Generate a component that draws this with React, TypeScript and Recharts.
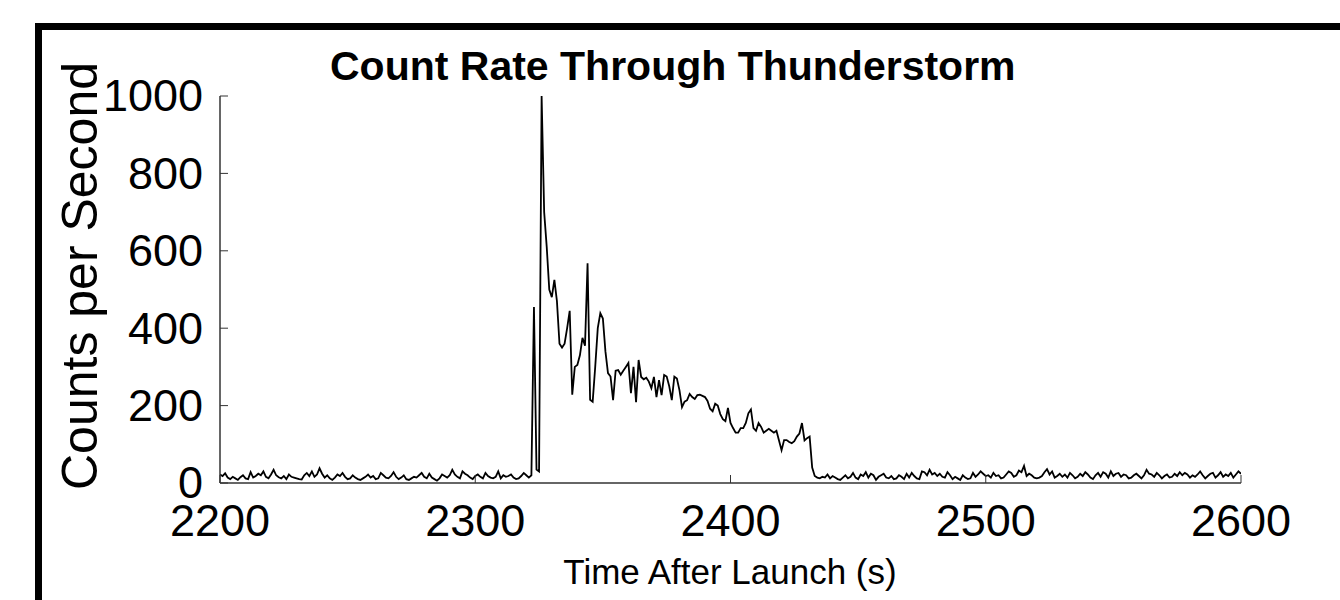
import React from "react";
import { LineChart, Line, XAxis, YAxis, Label } from "recharts";

// seconds after launch, three stretches sampled once per second
const PRE_START = 2200;
const STORM_START = 2322;
const POST_START = 2434;

const preStorm = [
  22, 18, 25, 14, 10, 16, 12, 8, 15, 20, 12, 10, 28, 14, 18, 24, 20, 30, 16, 12,
  22, 34, 20, 15, 12, 18, 10, 22, 16, 14, 12, 10, 9, 20, 26, 18, 30, 16, 22, 38,
  24, 14, 20, 12, 8, 14, 22, 18, 26, 16, 10, 12, 20, 14, 10, 8, 12, 16, 22, 14,
  18, 10, 12, 26, 20, 14, 12, 18, 28, 16, 10, 14, 20, 10, 8, 12, 16, 14, 20, 26,
  16, 12, 24, 14, 10, 6, 12, 22, 18, 14, 20, 34, 22, 16, 12, 30, 24, 20, 14, 10,
  18, 22, 16, 12, 26, 18, 14, 12, 16, 30, 12, 20, 16, 18, 22, 14, 10, 12, 18, 26,
  20, 14,
];

const storm = [
  20, 455, 35, 30, 1000, 700, 610, 500, 480, 525, 470, 360, 350, 360, 400, 445,
  228, 300, 305, 330, 375, 355, 568, 215, 210, 300, 400, 439, 425, 340, 284, 275,
  214, 290, 292, 280, 290, 300, 310, 232, 300, 209, 318, 274, 268, 272, 262, 245,
  274, 222, 266, 227, 279, 275, 250, 214, 275, 270, 240, 196, 210, 214, 230, 222,
  217, 227, 228, 225, 222, 212, 192, 185, 205, 200, 178, 165, 160, 194, 155, 142,
  130, 130, 142, 142, 155, 180, 190, 142, 135, 155, 145, 130, 135, 140, 135, 130,
  135, 110, 85, 111, 111, 106, 103, 108, 120, 128, 155, 110, 116, 120, 40, 18,
];

const postStorm = [
  14, 12, 16, 14, 22, 12, 18, 14, 10, 8, 14, 20, 12, 16, 26, 14, 10, 22, 18, 28,
  14, 24, 20, 8, 16, 20, 24, 14, 12, 18, 10, 12, 20, 16, 10, 24, 14, 26, 18, 12,
  10, 30, 28, 20, 34, 22, 26, 18, 24, 16, 14, 28, 20, 10, 16, 12, 8, 20, 14, 10,
  12, 26, 16, 22, 30, 24, 18, 20, 14, 26, 18, 20, 12, 14, 22, 30, 26, 16, 20, 32,
  28, 44, 18, 24, 20, 14, 12, 14, 18, 28, 36, 22, 30, 14, 18, 24, 16, 22, 14, 26,
  20, 12, 16, 24, 18, 28, 22, 14, 10, 20, 26, 16, 28, 24, 14, 30, 18, 24, 26, 16,
  22, 20, 12, 14, 20, 24, 18, 12, 20, 34, 24, 22, 16, 26, 20, 12, 18, 22, 14, 16,
  24, 18, 28, 20, 26, 22, 14, 20, 16, 22, 30, 20, 12, 18, 24, 26, 14, 20, 28, 16,
  22, 18, 26, 14, 22, 30, 24,
];

const xTicks = [2200, 2300, 2400, 2500, 2600];
const yTicks = [0, 200, 400, 600, 800, 1000];

const segments: [number, number[]][] = [
  [PRE_START, preStorm],
  [STORM_START, storm],
  [POST_START, postStorm],
];

const data = segments.flatMap(([start, vals]) =>
  vals.map((v, i) => ({ t: start + i, counts: v })),
);

const FONT = "Liberation Sans, Arial, sans-serif";

const XTick = (props: any) => (
  <text
    x={props.x}
    y={props.y}
    textAnchor='middle'
    fontSize={45}
    fontFamily={FONT}
    fill='#000'
  >
    {props.payload.value}
  </text>
);

const YTick = (props: any) => (
  <text
    x={props.x}
    y={props.y}
    dy='0.34em'
    textAnchor='end'
    fontSize={45}
    fontFamily={FONT}
    fill='#000'
  >
    {props.payload.value}
  </text>
);

export default function App() {
  return (
    <div
      style={{
        position: "absolute",
        left: 0,
        top: 0,
        width: 1340,
        height: 600,
        background: "#fff",
        overflow: "hidden",
      }}
    >
      {/* figure frame, only top and left edges show */}
      <div
        style={{
          position: "absolute",
          left: 35,
          top: 23,
          width: 1305,
          height: 7,
          background: "#000",
        }}
      />
      <div
        style={{
          position: "absolute",
          left: 35,
          top: 23,
          width: 7,
          height: 577,
          background: "#000",
        }}
      />
      <div
        style={{
          position: "absolute",
          left: 330,
          top: 42,
          whiteSpace: "nowrap",
          fontFamily: FONT,
          fontWeight: "bold",
          fontSize: 41,
          lineHeight: "48px",
          color: "#000",
        }}
      >
        Count Rate Through Thunderstorm
      </div>
      <LineChart
        width={1340}
        height={600}
        data={data}
        margin={{ top: 96, right: 99, bottom: 0, left: 0 }}
        style={{ position: "absolute", left: 0, top: 0 }}
      >
        <XAxis
          dataKey='t'
          type='number'
          domain={[2200, 2600]}
          ticks={xTicks}
          height={117}
          tickSize={-8}
          tickMargin={61}
          tick={<XTick />}
          axisLine={{ stroke: "#333", strokeWidth: 1.5 }}
          tickLine={{ stroke: "#333" }}
          allowDataOverflow
        >
          <Label
            content={() => (
              <text
                x={730}
                y={584}
                textAnchor='middle'
                fontSize={35}
                fontFamily={FONT}
                fill='#000'
              >
                Time After Launch (s)
              </text>
            )}
          />
        </XAxis>
        <YAxis
          type='number'
          domain={[0, 1000]}
          ticks={yTicks}
          width={220}
          tickSize={-8}
          tickMargin={25}
          tick={<YTick />}
          axisLine={{ stroke: "#333", strokeWidth: 1.5 }}
          tickLine={{ stroke: "#333" }}
        >
          <Label
            content={() => (
              <text
                x={97}
                y={276}
                transform='rotate(-90 97 276)'
                textAnchor='middle'
                fontSize={50}
                fontFamily={FONT}
                fill='#000'
              >
                Counts per Second
              </text>
            )}
          />
        </YAxis>
        <Line
          type='linear'
          dataKey='counts'
          stroke='#000'
          strokeWidth={1.8}
          dot={false}
          isAnimationActive={false}
        />
      </LineChart>
    </div>
  );
}
